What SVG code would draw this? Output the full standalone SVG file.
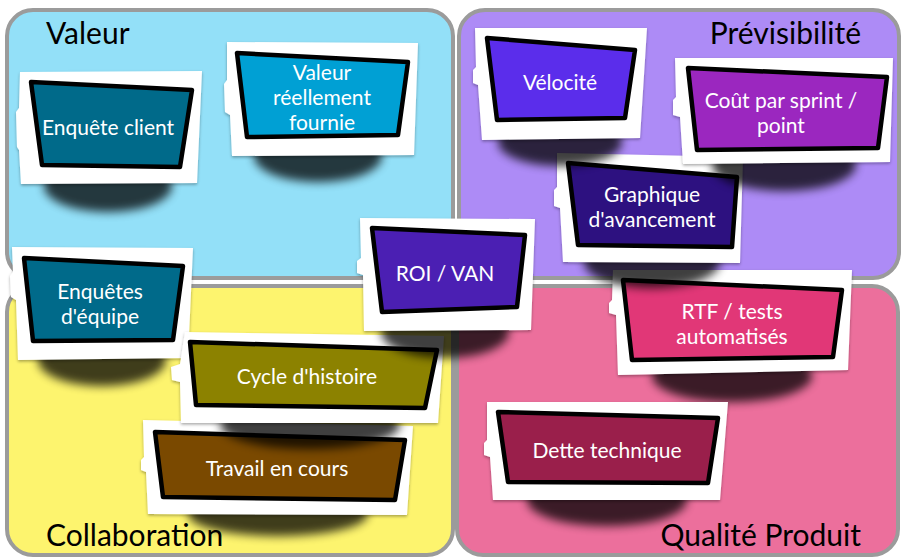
<svg xmlns="http://www.w3.org/2000/svg" width="902" height="560" viewBox="0 0 902 560">
  <defs>
    <style>
      .quad { stroke: #9b9b9b; stroke-width: 4; }
      .title { font-family: Lato, "Open Sans", "Liberation Sans", sans-serif; font-size: 30px; fill: #000; }
      .frame { fill: #fff; filter: url(#edge); }
      .ink { stroke: #000; stroke-width: 4.5; stroke-linejoin: round; }
      .label { font-family: Lato, "Open Sans", "Liberation Sans", sans-serif; font-size: 21px; fill: #fff; text-anchor: middle; }
      .shadow { fill: #000; opacity: 0.75; filter: url(#soft); }
    </style>
    <filter id="soft" x="-50%" y="-50%" width="200%" height="200%">
      <feGaussianBlur stdDeviation="5"/>
    </filter>
    <filter id="edge" x="-10%" y="-10%" width="120%" height="130%">
      <feDropShadow dx="0" dy="1.5" stdDeviation="1.5" flood-color="#000" flood-opacity="0.35"/>
    </filter>
  </defs>

  <rect width="902" height="560" fill="#fff"/>

  <!-- quadrants -->
  <g id="quadrants">
    <rect id="q-valeur" class="quad" x="7" y="10" width="446" height="268" rx="26" fill="#93e0f8"/>
    <rect id="q-previsibilite" class="quad" x="459" y="10" width="440" height="268" rx="26" fill="#ad8bf6"/>
    <rect id="q-collaboration" class="quad" x="7" y="286" width="446" height="269" rx="26" fill="#fdf46e"/>
    <rect id="q-qualite" class="quad" x="457" y="286" width="441" height="269" rx="26" fill="#ec6f9c"/>
  </g>

  <g id="titles">
    <text class="title" x="46" y="44">Valeur</text>
    <text class="title" x="861" y="44" text-anchor="end">Prévisibilité</text>
    <text class="title" x="46" y="546">Collaboration</text>
    <text class="title" x="861" y="546" text-anchor="end">Qualité Produit</text>
  </g>

  <!-- cards -->
  <g id="enquete-client">
    <ellipse class="shadow" cx="108" cy="186" rx="64" ry="26"/>
    <path class="frame" d="M20,72 L202,71 L197,183 L21,184 L19,150 L17,147 L16,112 L19,108 Z"/>
    <path class="ink" d="M31,82 L192,90 L180,167 L42,165 Z" fill="#006a8a"/>
    <text class="label" x="108" y="135">Enquête client</text>
  </g>

  <g id="valeur-fournie">
    <ellipse class="shadow" cx="318" cy="156" rx="64" ry="26"/>
    <path class="frame" d="M227,42 L418,43 L414,155 L232,156 L230,115 L225,112 L224,84 L227,80 Z"/>
    <path class="ink" d="M237,53 L408,62 L398,135 L247,137 Z" fill="#00a0d4"/>
    <text class="label" x="322" y="80">Valeur</text>
    <text class="label" x="322" y="105">réellement</text>
    <text class="label" x="322" y="130">fournie</text>
  </g>

  <g id="enquetes-equipe">
    <ellipse class="shadow" cx="102" cy="360" rx="64" ry="26"/>
    <path class="frame" d="M12,247 L193,248 L188,358 L18,360 L16,300 L11,297 L10,276 L13,272 Z"/>
    <path class="ink" d="M24,258 L183,266 L173,340 L33,341 Z" fill="#006a8a"/>
    <text class="label" x="100" y="299">Enquêtes</text>
    <text class="label" x="100" y="324">d'équipe</text>
  </g>

  <g id="travail-en-cours">
    <ellipse class="shadow" cx="278" cy="514" rx="90" ry="22"/>
    <path class="frame" d="M143,420 L413,426 L407,515 L148,514 L146,472 L141,470 L141,460 L144,457 Z"/>
    <path class="ink" d="M155,432 L405,440 L395,500 L163,497 Z" fill="#7a4900"/>
    <text class="label" x="277" y="476">Travail en cours</text>
  </g>

  <g id="cycle-histoire">
    <ellipse class="shadow" cx="310" cy="425" rx="90" ry="24"/>
    <path class="frame" d="M185,332 L444,336 L438,423 L181,423 L180,382 L172,380 L171,367 L180,364 Z"/>
    <path class="ink" d="M190,342 L437,350 L425,408 L196,405 Z" fill="#8c8200"/>
    <text class="label" x="307" y="384">Cycle d'histoire</text>
  </g>

  <g id="roi-van">
    <ellipse class="shadow" cx="445" cy="332" rx="64" ry="26"/>
    <path class="frame" d="M360,218 L535,219 L531,330 L364,331 L363,275 L357,273 L357,261 L361,258 Z"/>
    <path class="ink" d="M372,228 L525,235 L517,307 L382,312 Z" fill="#4b1fb3"/>
    <text class="label" x="445" y="281">ROI / VAN</text>
  </g>

  <g id="rtf-tests">
    <ellipse class="shadow" cx="732" cy="376" rx="80" ry="26"/>
    <path class="frame" d="M613,270 L852,270 L848,370 L618,375 L616,315 L609,313 L609,303 L612,300 Z"/>
    <path class="ink" d="M623,280 L842,290 L833,357 L632,360 Z" fill="#e13777"/>
    <text class="label" x="732" y="319">RTF / tests</text>
    <text class="label" x="732" y="344">automatisés</text>
  </g>

  <g id="graphique-avancement">
    <ellipse class="shadow" cx="652" cy="262" rx="68" ry="26"/>
    <path class="frame" d="M557,153 L743,157 L740,263 L563,262 L560,208 L554,206 L554,190 L557,187 Z"/>
    <path class="ink" d="M568,163 L737,177 L732,247 L578,245 Z" fill="#2d1180"/>
    <text class="label" x="652" y="202">Graphique</text>
    <text class="label" x="652" y="227">d'avancement</text>
  </g>

  <g id="cout-sprint">
    <ellipse class="shadow" cx="784" cy="165" rx="72" ry="26"/>
    <path class="frame" d="M675,58 L893,58 L890,162 L683,164 L680,117 L673,115 L673,100 L676,97 Z"/>
    <path class="ink" d="M688,68 L887,77 L878,148 L697,150 Z" fill="#9b27bf"/>
    <text class="label" x="781" y="108">Coût par sprint /</text>
    <text class="label" x="781" y="133">point</text>
  </g>

  <g id="velocite">
    <ellipse class="shadow" cx="560" cy="142" rx="62" ry="24"/>
    <path class="frame" d="M475,28 L647,28 L640,138 L482,140 L478,85 L473,83 L473,70 L476,67 Z"/>
    <path class="ink" d="M487,38 L635,50 L625,118 L497,120 Z" fill="#5b2deb"/>
    <text class="label" x="560" y="90">Vélocité</text>
  </g>

  <g id="dette-technique">
    <ellipse class="shadow" cx="607" cy="500" rx="80" ry="26"/>
    <path class="frame" d="M487,402 L728,402 L720,500 L493,500 L490,457 L484,455 L484,443 L487,440 Z"/>
    <path class="ink" d="M498,412 L718,418 L708,483 L508,482 Z" fill="#9a1f4b"/>
    <text class="label" x="607" y="458">Dette technique</text>
  </g>
</svg>
